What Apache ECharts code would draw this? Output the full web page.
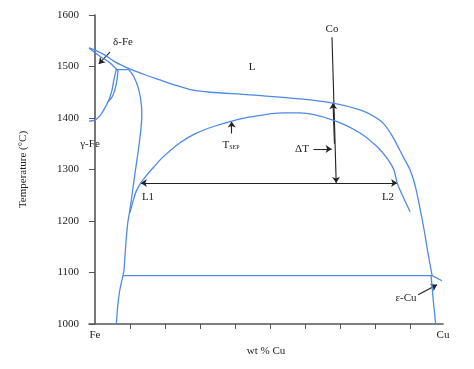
<!DOCTYPE html>
<html><head><meta charset="utf-8">
<script src="https://cdn.jsdelivr.net/npm/echarts@6/dist/echarts.min.js"></script>
<style>html,body{margin:0;padding:0;background:#fff}#c{width:474px;height:369px}</style>
</head><body><div id="c"></div>
<script>
// ---- data (wt % Cu, temperature °C) ----
const yTicks = [1000, 1100, 1200, 1300, 1400, 1500, 1600];
const xTickValues = [10, 20, 30, 40, 50, 60, 70, 80, 90];
const xEndLabels = ['Fe', 'Cu'];
const liquidus = [[-1.7,1536],[0.6,1530],[2.9,1522],[5.7,1509],[9.4,1497],[14.3,1484],[18.6,1474],[22.9,1464],[28,1454],[32.9,1450],[44.3,1445],[58.6,1437],[68,1429],[75.7,1416],[79.5,1404],[82.3,1390],[85.1,1363],[88,1325],[90,1299],[91.4,1270],[92.9,1222],[94,1183],[95.1,1138],[96.3,1094]];
const deltaSolidus = [[-1.7,1536],[1.4,1520],[4.3,1507],[6.3,1494]];
const peritectic = [[5.9,1494],[9.7,1494]];
const deltaLensLeft = [[6.1,1494],[5.4,1474],[4.9,1455],[4.3,1441],[3.7,1431],[2.9,1420],[1.4,1404],[0,1396],[-1.7,1394]];
const deltaLensRight = [[6.6,1494],[6.3,1474],[5.7,1455],[4.9,1441],[3.7,1431]];
const gammaSolidus = [[9.7,1494],[11.1,1480],[12.3,1460],[13.1,1435],[13.4,1406],[13.1,1377],[12.6,1348],[12,1319],[11.3,1286],[10.6,1251],[10,1222],[9.4,1198],[8.9,1163],[8.6,1134],[8.3,1105],[8,1094]];
const gammaLow = [[8,1094],[7.1,1066],[6.6,1041],[6.3,1018],[6.1,1000]];
const monotectic = [[8,1094],[96.3,1094]];
const dome = [[10,1216],[10.9,1239],[11.8,1258],[13.1,1274],[14.9,1290],[17.1,1307],[19.4,1324],[24.3,1352],[29.1,1371],[33.7,1383],[38.6,1393],[44.3,1402],[53.7,1410],[58.6,1410],[68,1396],[75.7,1371],[80.6,1344],[83.7,1319],[85.4,1299],[86.3,1274],[88,1247],[90,1218]];
const epsilonCu = [[96.3,1094],[99.1,1084]];
const cuSolidus = [[96,1094],[96.6,1047],[97.3,1000]];
// annotation arrows
const coLine = [[67.7,1557],[68.9,1274]];
const dTUp = [[68.4,1350],[68.0,1429]];
const tieLine = [[13.1,1274],[86.3,1274]];
const dTArrow = [[62.4,1340],[67.6,1340]];
const tsepArrow = [[39.05,1370],[39.05,1393]];
const deltaArrow = [[4.3,1528],[1.1,1505]];
const epsArrow = [[92.3,1057],[97.7,1076]];

const BLUE = '#4d8ae6';
const FONT = 'Liberation Serif';
const phaseLines = [liquidus, deltaSolidus, peritectic, deltaLensLeft, deltaLensRight, gammaSolidus, gammaLow, monotectic, dome, epsilonCu, cuSolidus];

const series = phaseLines.map(d => ({
  type: 'line', data: d, showSymbol: false, smooth: d.length > 3 ? 0.3 : false,
  lineStyle: { color: BLUE, width: 1.3 }, silent: true, animation: false
}));
series.push({
  type: 'lines', coordinateSystem: 'cartesian2d', animation: false, silent: true,
  lineStyle: { color: '#222', width: 1.1, opacity: 1 },
  symbolSize: 6,
  data: [
    { coords: coLine, symbol: ['none', 'arrow'] },
    { coords: dTUp, symbol: ['none', 'arrow'] },
    { coords: tieLine, symbol: ['arrow', 'arrow'] },
    { coords: dTArrow, symbol: ['none', 'arrow'] },
    { coords: tsepArrow, symbol: ['none', 'arrow'] },
    { coords: deltaArrow, symbol: ['none', 'arrow'] },
    { coords: epsArrow, symbol: ['none', 'arrow'] }
  ]
});

const txt = (x, y, s) => ({ type: 'text', x, y, style: { text: s, font: '11px "' + FONT + '"', fill: '#222', align: 'center', verticalAlign: 'middle' } });

const chart = echarts.init(document.getElementById('c'), null, { renderer: 'canvas' });
chart.setOption({
  animation: false,
  grid: { left: 89, right: 31, top: 15, bottom: 45 },
  xAxis: {
    type: 'value', min: -1.7, max: 99.4,
    name: 'wt % Cu', nameLocation: 'middle', nameGap: 19,
    nameTextStyle: { fontFamily: FONT, fontSize: 11, color: '#222' },
    axisLine: { lineStyle: { color: '#555', width: 1.6 } },
    axisTick: { show: true, length: 5, customValues: xTickValues, lineStyle: { color: '#555', width: 1 } },
    axisLabel: { customValues: [0, 99.4], formatter: v => (v < 50 ? xEndLabels[0] : xEndLabels[1]), fontFamily: FONT, fontSize: 11, color: '#222', margin: 6 },
    splitLine: { show: false }
  },
  yAxis: {
    type: 'value', min: yTicks[0], max: yTicks[yTicks.length - 1], interval: 100,
    name: 'Temperature (°C)', nameLocation: 'middle', nameGap: 60,
    nameTextStyle: { fontFamily: FONT, fontSize: 11, color: '#222' },
    axisLine: { show: true, lineStyle: { color: '#555', width: 1.6 } },
    axisTick: { show: true, length: 6, lineStyle: { color: '#555', width: 1 } },
    axisLabel: { fontFamily: FONT, fontSize: 11, color: '#222', margin: 10, formatter: v => String(v) },
    splitLine: { show: false }
  },
  series,
  graphic: [
    txt(123, 42, 'δ-Fe'),
    txt(252, 67, 'L'),
    txt(332, 29, 'Co'),
    txt(90, 144, 'γ-Fe'),
    txt(302, 149, 'ΔT'),
    txt(148, 197, 'L1'),
    txt(388, 197, 'L2'),
    txt(406, 298, 'ε-Cu'),
    { type: 'text', x: 231, y: 145, style: { text: '{a|T}{b|SEP}', align: 'center', verticalAlign: 'middle', fill: '#222',
      rich: { a: { font: '11px "' + FONT + '"', fill: '#222' }, b: { font: '6px "' + FONT + '"', fill: '#222', verticalAlign: 'bottom', padding: [4, 0, 0, 0] } } } }
  ]
});
</script></body></html>
